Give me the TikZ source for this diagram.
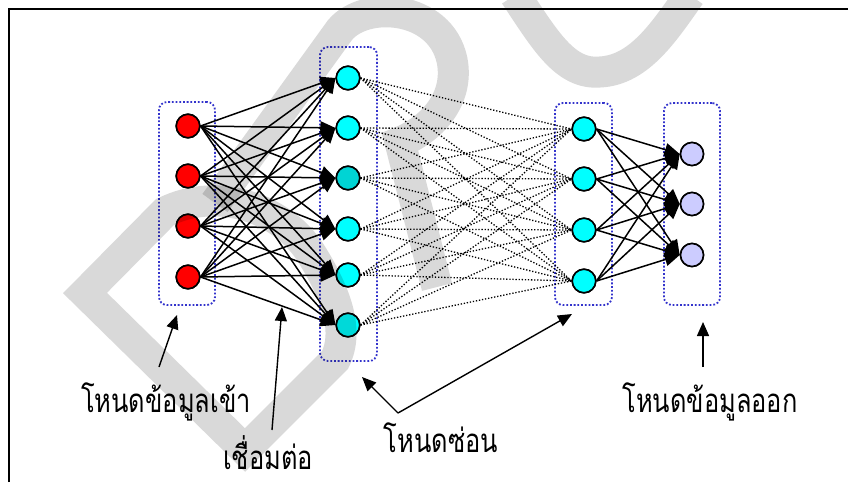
\documentclass[tikz,border=0pt]{standalone}
\usepackage{fontspec}
\newfontfamily\thaifont[Script=Thai,FakeStretch=0.77]{Loma}
\usetikzlibrary{arrows.meta}
\definecolor{inred}{RGB}{255,0,0}
\definecolor{hidcyan}{RGB}{0,255,255}
\definecolor{hidteal}{RGB}{0,212,212}
\definecolor{outlav}{RGB}{204,204,255}
\definecolor{boxblue}{RGB}{51,51,204}
\definecolor{wmgray}{RGB}{217,217,217}
\tikzset{
  neuron/.style={circle, draw=black, line width=1.6pt, minimum size=23.5pt, inner sep=0pt},
  layerbox/.style={draw=boxblue, line width=1.8pt, dash pattern=on 1.8pt off 1.9pt,
                   rounded corners=8pt, inner sep=0pt},
  link/.style={line width=1.5pt, -{Triangle[length=15pt,width=13pt]}},
  weak/.style={line width=1.3pt, dash pattern=on 1.3pt off 1.8pt},
  pointer/.style={line width=1.4pt, -{Triangle[length=14pt,width=12pt]}},
  caption/.style={font=\thaifont\fontsize{33}{38}\selectfont, anchor=base,
                  inner sep=0pt, text depth=0pt},
  wmark/.style={draw=wmgray, line width=31pt, line join=miter, line cap=butt},
}
\begin{document}
\begin{tikzpicture}[x=1pt,y=-1pt]
\useasboundingbox (0,0) rectangle (848,482);
\fill[white] (0,0) rectangle (848,482);

% outer frame
\draw[line width=1.6pt] (9,482) -- (9,9) -- (848,9);

% layer boxes
\node[layerbox, minimum width=56pt, minimum height=203pt] (ibox) at (187,203.5) {};
\node[layerbox, minimum width=57pt, minimum height=314pt] (hbox) at (348.5,204) {};
\node[layerbox, minimum width=57pt, minimum height=202pt] (gbox) at (583.5,204) {};
\node[layerbox, minimum width=56pt, minimum height=202pt] (obox) at (692,204) {};

% input layer
\foreach \i/\y in {1/126,2/176,3/226,4/277}
  \node[neuron, fill=inred] (i\i) at (188,\y) {};
% first hidden layer
\foreach \i/\y in {1/78,2/128,4/229,5/275,6/325}
  \node[neuron, fill=hidcyan] (h\i) at (348,\y) {};
\node[neuron, fill=hidteal] (h3) at (348,178) {};
% second hidden layer
\foreach \i/\y in {1/129,2/179,3/230,4/281}
  \node[neuron, fill=hidcyan] (g\i) at (584,\y) {};
% output layer
\foreach \i/\y in {1/154,2/204,3/255}
  \node[neuron, fill=outlav, minimum size=23pt] (o\i) at (692,\y) {};

% weighted links
\foreach \a in {1,...,4}
  \foreach \b in {1,...,6}
    \draw[link] (i\a.east) -- (h\b.west);
\foreach \a in {1,...,6}
  \foreach \b in {1,...,4}
    \draw[weak] (h\a.east) -- (g\b.west);
\foreach \a in {1,...,4}
  \foreach \b in {1,...,3}
    \draw[link] (g\a.east) -- (o\b.west);

% redraw nodes above the links
\foreach \i in {1,...,4} \node[neuron, fill=inred] at (i\i) {};
\foreach \i in {1,2,4,5,6} \node[neuron, fill=hidcyan] at (h\i) {};
\node[neuron, fill=hidteal] at (h3) {};
\foreach \i in {1,...,4} \node[neuron, fill=hidcyan] at (g\i) {};
\foreach \i in {1,...,3} \node[neuron, fill=outlav, minimum size=23pt] at (o\i) {};

% captions
\node[caption] (lin) at (166,412) {โหนดข้อมูลเข้า};
\node[caption] (llink) at (268,469) {เชื่อมต่อ};
\node[caption] (lhid) at (441,452) {โหนดซ่อน};
\node[caption] (lout) at (710,412) {โหนดข้อมูลออก};

% caption pointers
\coordinate (pinA) at (159,367);  \coordinate (tipA) at (177,315);
\coordinate (pinB) at (272,430);  \coordinate (tipB) at (282,307);
\coordinate (pinC) at (398,413);  \coordinate (tipC) at (362,377);
\coordinate (tipD) at (572,314);
\coordinate (pinE) at (703,367);  \coordinate (tipE) at (703,322);
\draw[pointer] (pinA) -- (tipA);
\draw[pointer] (pinB) -- (tipB);
\draw[pointer] (pinC) -- (tipC);
\draw[pointer] (pinC) -- (tipD);
\draw[pointer] (pinE) -- (tipE);

% faint lettering laid over the whole sheet
\begin{scope}[blend mode=multiply]
  \draw[wmark] (85,293) -- (165,212)
     .. controls (220,185) and (285,210) .. (312,255)
     .. controls (335,292) and (350,330) .. (335,360)
     -- (245,450) -- cycle;
  \draw[wmark] (215,203) -- (340,30)
     .. controls (365,0) and (440,5) .. (452,60)
     .. controls (460,100) and (430,130) .. (400,142) -- (437,287);
  \draw[wmark] (515,-5) .. controls (545,40) and (565,75) .. (600,72)
     .. controls (640,70) and (665,30) .. (690,-5);
\end{scope}
\end{tikzpicture}
\end{document}
